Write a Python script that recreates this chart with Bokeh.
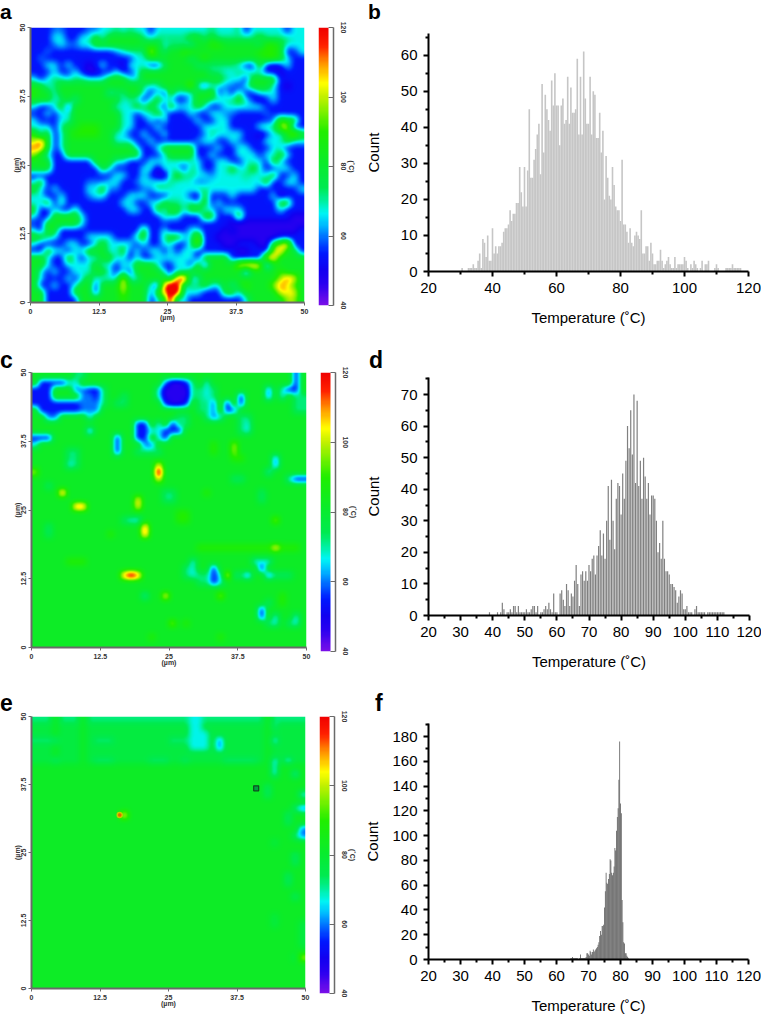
import numpy as np
from bokeh.plotting import figure
from bokeh.models import FixedTicker, LinearColorMapper, Div
from bokeh.embed import file_html
from bokeh.resources import INLINE

# ---- colour scale of the maps (deg C -> colour) ----
CB_VALUES = [40, 46, 50, 55, 60, 63, 66.5, 70, 74, 80, 90, 96, 100, 104, 110, 115, 120]
CB_COLORS = ["#7a10e8", "#2a00f0", "#1200f0", "#0018ff", "#0078ff", "#00b8ff", "#00f5f5", "#00f0a0",
             "#00ea50", "#08ec30", "#20ee00", "#80f000", "#c0f000", "#ffff00", "#ff9000", "#ff2000", "#f00000"]
CB_TICKS = [40, 60, 80, 100, 120]
MAP_TICKS = [0, 12.5, 25, 37.5, 50]

# levels used by the hand-read map grids (deg C)
LEVELS = {"0": 47, "1": 54, "2": 60, "3": 67, "4": 72, "a": 77, "5": 82, "6": 90, "7": 98, "8": 105, "9": 112, "R": 126}

# ---- panel a: temperature map read cell by cell (40 x 40, top row first) ----
MAP_A = [
    "1112211122334343313333333343334133333133",
    "1113311335355555434444455454444445444433",
    "1112322335555555555344435566555554665333",
    "1121111111112344485455665555555556665113",
    "1211111111111113355555545655555555665311",
    "1133131101311033311455554444443115101311",
    "1113113100113113555555555544334433110111",
    "3134434433355533555555555555433155551111",
    "5534555555555555433555573133221355531011",
    "6553555555534455313153335561314113331111",
    "5553453555555343135331135544345310131111",
    "3113515555" "5533354531" "5333531133" "3333111111",
    "1131335555" "5553313353" "1113113322" "1111211111",
    "3111335555" "5553311313" "1111311331" "1111126551",
    "3331455666" "5553311131" "1111133331" "1113447811",
    "6351356666" "5533113113" "1111124333" "3110133585",
    "7951355555" "5533311311" "1111233113" "2111333533",
    "9951355555" "5555531135" "5555111311" "3311133111",
    "7531155555" "5555551113" "5555113111" "3331335311",
    "5551111115" "5533111333" "3333311331" "1333153111",
    "5551111111" "5311113303" "3314311335" "3353113311",
    "1111111111" "1133113100" "3544332333" "3433351131",
    "3511111122" "2331123333" "4333223333" "3333511331",
    "5313111133" "5221112244" "3333443333" "3331111113",
    "3311311123" "3111333111" "3331051113" "1111130111",
    "3351411111" "1113311335" "4434351311" "1111115511",
    "5113114111" "1111331153" "5535533133" "3111113111",
    "3115555311" "1111111114" "3311155111" "5111111100",
    "1155555311" "1111111111" "1111111110" "0000000000",
    "3155111111" "1111115113" "1113311101" "0000000001",
    "5543111133" "3311145114" "5533711000" "0000001111",
    "3111133113" "5333313113" "3114711100" "1110057911",
    "1153313355" "5335131331" "3133111111" "0011179551",
    "5531153133" "5533131133" "3333155551" "1111895555",
    "5531133335" "3313355531" "1331515555" "8998155555",
    "5313113335" "5313155553" "1335555555" "5155556555",
    "5311131353" "3338335555" "49R3355555" "5555557985",
    "5113113551" "5558555319" "RR44453353" "5655579865",
    "5511115551" "5557555259" "RR33311155" "3555558885",
    "5511111555" "5556555135" "R331111111" "1355555775",
]

# ---- panels c, e: uniform field plus patches ----
# (first col, last col, first row, last row, level) on the same 40 x 40 grid
MAP_C_BASE = "5"
MAP_C_PATCHES = [
    (6, 7, 0, 0, "4"), (1, 4, 1, 1, "1"), (0, 2, 2, 4, "1"), (3, 6, 4, 5, "1"), (1, 2, 5, 5, "1"),
    (2, 3, 6, 6, "2"), (5, 6, 1, 1, "3"), (6, 8, 2, 2, "2"), (8, 9, 2, 3, "1"), (7, 8, 3, 5, "2"),
    (9, 9, 4, 5, "2"), (8, 8, 6, 6, "3"), (10, 10, 2, 4, "4"),
    (19, 22, 1, 4, "0"), (19, 19, 1, 1, "2"), (22, 22, 1, 1, "1"), (22, 22, 4, 4, "1"), (19, 19, 4, 4, "1"),
    (18, 18, 2, 3, "3"), (23, 23, 1, 3, "4"), (24, 26, 2, 5, "4"), (25, 25, 1, 3, "3"),
    (13, 13, 3, 4, "4"), (12, 12, 4, 4, "4"),
    (38, 38, 0, 2, "1"), (37, 37, 2, 2, "1"), (36, 36, 2, 3, "3"), (34, 34, 2, 3, "2"),
    (30, 30, 3, 4, "1"), (29, 29, 5, 5, "2"), (28, 28, 4, 5, "1"), (26, 26, 4, 6, "2"), (27, 27, 6, 6, "3"),
    (30, 31, 6, 8, "4"), (31, 31, 7, 8, "3"), (25, 25, 6, 6, "4"), (38, 39, 3, 5, "4"),
    (15, 16, 7, 9, "1"), (20, 21, 7, 8, "1"), (19, 19, 8, 9, "1"), (18, 18, 7, 9, "3"), (17, 17, 8, 8, "3"), (21, 22, 6, 7, "4"),
    (8, 8, 8, 8, "2"), (0, 2, 9, 9, "1"), (0, 0, 10, 10, "3"), (12, 12, 9, 11, "1"), (16, 17, 10, 10, "2"),
    (15, 18, 11, 11, "4"), (5, 6, 11, 13, "4"), (5, 5, 13, 13, "3"),
    (35, 35, 12, 13, "2"), (34, 34, 14, 14, "3"), (38, 39, 15, 15, "1"), (37, 37, 15, 15, "3"),
    (18, 18, 14, 14, "R"), (18, 18, 13, 13, "8"), (18, 18, 15, 15, "8"), (0, 0, 14, 14, "7"),
    (4, 4, 17, 17, "9"), (6, 7, 19, 19, "9"), (15, 15, 18, 19, "8"), (16, 16, 22, 23, "9"),
    (14, 15, 21, 21, "3"), (13, 13, 21, 21, "4"), (2, 2, 22, 23, "4"), (2, 2, 16, 16, "4"),
    (19, 20, 17, 18, "4"), (33, 33, 17, 18, "4"), (29, 30, 15, 15, "4"), (25, 25, 17, 17, "6"),
    (29, 29, 10, 11, "7"), (26, 26, 10, 11, "6"), (29, 30, 12, 12, "6"), (21, 22, 20, 21, "6"),
    (35, 35, 21, 21, "7"), (35, 35, 25, 25, "8"), (36, 38, 25, 25, "6"), (24, 34, 25, 25, "6"),
    (11, 11, 23, 23, "6"), (5, 7, 27, 27, "6"), (23, 23, 27, 29, "3"), (22, 22, 28, 29, "4"),
    (24, 25, 29, 30, "4"), (26, 26, 28, 30, "1"), (27, 27, 29, 30, "3"), (28, 28, 29, 29, "8"),
    (29, 30, 29, 29, "4"), (31, 31, 29, 29, "2"), (33, 33, 28, 28, "1"), (32, 34, 27, 27, "3"),
    (34, 34, 29, 29, "2"), (35, 37, 29, 29, "4"),
    (14, 14, 29, 29, "R"), (13, 13, 29, 29, "9"), (15, 15, 29, 29, "9"),
    (16, 16, 32, 32, "3"), (19, 19, 32, 32, "8"), (27, 27, 32, 32, "7"),
    (36, 36, 32, 33, "6"), (20, 20, 36, 36, "7"), (22, 22, 36, 36, "6"),
    (33, 33, 34, 35, "1"), (34, 34, 33, 33, "4"), (34, 34, 36, 36, "4"), (35, 35, 35, 36, "3"),
    (38, 38, 35, 36, "3"), (37, 37, 36, 36, "4"), (17, 17, 38, 38, "6"), (27, 27, 38, 38, "6"),
]
MAP_E_BASE = "5"
MAP_E_PATCHES = [
    (0, 39, 0, 0, "4"), (0, 39, 1, 6, "a"), (3, 3, 0, 39, "5"), (7, 7, 0, 6, "5"), (34, 34, 0, 39, "5"),
    (23, 24, 0, 1, "3"), (35, 35, 0, 1, "4"),
    (0, 3, 3, 3, "4"), (9, 11, 3, 3, "4"), (20, 22, 3, 3, "4"), (23, 25, 2, 4, "3"), (27, 27, 3, 4, "2"),
    (35, 35, 3, 3, "3"), (3, 3, 6, 6, "4"), (9, 11, 6, 6, "4"), (17, 19, 6, 6, "4"), (22, 22, 6, 6, "4"),
    (28, 32, 6, 6, "4"), (35, 35, 6, 8, "3"), (37, 37, 6, 6, "3"), (38, 38, 8, 8, "3"),
    (34, 34, 10, 11, "4"), (39, 39, 11, 11, "3"), (39, 39, 13, 13, "2"), (38, 38, 13, 13, "4"),
    (37, 37, 14, 15, "4"), (39, 39, 16, 17, "2"), (38, 38, 17, 17, "4"), (35, 35, 18, 18, "a"),
    (38, 38, 20, 21, "4"), (37, 37, 23, 24, "4"), (38, 38, 26, 26, "4"), (35, 35, 29, 30, "a"),
    (39, 39, 30, 33, "a"), (38, 38, 35, 35, "a"), (39, 39, 35, 35, "7"),
    (13, 13, 14, 14, "8"),
]
# spot markers on panel e: hot point and probe square (um)
E_CIRCLE_X, E_CIRCLE_Y = [16.1], [31.9]
E_SQUARE_X, E_SQUARE_Y = [41.0], [36.8]

# ---- histograms, counts per bin ----
HIST_B_START, HIST_B_STEP = 30.0, 0.5
HIST_B = [0,1,0,0,0,1,1,1,2,1, 1,3,5,1,9,8,4,10,3,3, 12,5,7,5,7,7,8,11,12,12, 13,17,14,16,16,19,19,29,22,18,
          29,18,28,45,26,26,31,34,38,41, 27,52,33,49,45,42,39,53,46,55, 46,46,35,46,48,41,42,54,41,51,
          44,44,45,59,38,54,38,61,48,41, 41,54,38,50,49,37,37,44,33,39, 20,32,26,21,20,29,24,18,17,17,
          14,31,13,13,11,8,12,8,7,10, 11,10,9,17,5,5,7,7,3,8, 5,2,2,3,3,6,3,1,2,3,
          4,2,1,1,4,1,2,2,2,2, 4,3,1,0,2,1,3,2,1,0, 1,3,0,2,2,3,0,0,0,1, 2,1,0,0,0,0,1,1,1,1, 2,1,1,1,1,1]
HIST_D_START, HIST_D_STEP = 39.0, 0.5
HIST_D = [1,0,0,0,0,1,0,1, 4,2,0,1,1,2,1,3,3,1, 3,1,1,1,1,2,1,1,2,3, 3,1,3,0,1,1,2,3,2,4, 2,1,7,1,1,0,7,8,5,3,
          10,8,3,7,6,11,16,10,3,13, 14,11,14,11,16,14,18,19,13,19, 22,27,19,26,18,30,41,24,43,30,
          21,37,42,41,32,45,37,49,60,53, 65,51,70,42,68,41,49,37,50,44, 37,42,32,38,38,37,30,20,23,18,
          30,18,14,14,13,10,10,9,8,4, 6,8,7,2,2,3,1,1,1,0, 2,3,1,1,1,1,1,0,1,1, 1,1,1,1,1,1,1,1,1,0]
HIST_F_START, HIST_F_STEP = 64.5, 0.25
HIST_F = [1,1,2,1,1,1,1,1,1,0,0,1,4,1,1,1,1,1,1,2,5,5,4,3,7,6,4,6,8,6,7,8,9,10,12,14,19,23,20,27,27,28,42,55,
          70,62,61,65,69,81,80,70,68,70,75,90,88,104,115,122,145,176,126,118,48,30,14,13,5,5,3,2,1]

X_LABEL = "Temperature (˚C)"
Y_LABEL = "Count"
MU_LABEL = "(µm)"
CB_LABEL = "(˚C)"
FONT = "Liberation Sans"
PALETTE_N = 256


def make_palette():
    vals = np.linspace(CB_VALUES[0], CB_VALUES[-1], PALETTE_N)
    rgb = np.array([[int(c[i:i + 2], 16) for i in (1, 3, 5)] for c in CB_COLORS], float)
    out = []
    for v in vals:
        px = [int(round(np.interp(v, CB_VALUES, rgb[:, k]))) for k in range(3)]
        out.append("#%02x%02x%02x" % tuple(px))
    return out


PALETTE = make_palette()
MAPPER = LinearColorMapper(palette=PALETTE, low=40, high=120)


def rows_to_grid(rows, n=40):
    return np.array([[LEVELS[ch] for ch in (r[:n].ljust(n, r[-1]))] for r in rows], float)


def patches_to_grid(base, patches, n=40):
    g = np.full((n, n), float(LEVELS[base]))
    for c0, c1, r0, r1, lev in patches:
        g[r0:r1 + 1, c0:c1 + 1] = LEVELS[lev]
    return g


def display_image(grid, n=275, k=7):
    """Resample the read grid to screen pixels so that it displays as a smooth map."""
    m = grid.shape[0]
    src = (np.arange(m) + 0.5) / m
    dst = (np.arange(n) + 0.5) / n
    a = np.array([np.interp(dst, src, r) for r in grid])
    a = np.array([np.interp(dst, src, c) for c in a.T]).T
    ker = np.ones(k) / k
    pad = k // 2
    a = np.pad(a, pad, mode="edge")
    a = np.apply_along_axis(lambda s: np.convolve(s, ker, mode="same"), 0, a)
    a = np.apply_along_axis(lambda s: np.convolve(s, ker, mode="same"), 1, a)
    a = a[pad:-pad, pad:-pad]
    return np.flipud(a)


def place(left, top):
    return {"position": "absolute", "left": f"{left}px", "top": f"{top}px"}


def letter(text, x, top, size):
    # x, top: corner of the letter's box in page pixels
    st = place(x, top)
    st.update({"font-family": FONT, "font-weight": "bold", "font-size": f"{size}px", "line-height": "normal", "color": "#000000"})
    return Div(text=text, width=20, height=28, margin=0, styles=st)


def map_fig(grid, fx0, fx1, fy0, fy1, blur):
    # fx0..fy1: the frame's edges in page pixels
    left, top = 0, fy0 - 26
    width, height = fx1 + 8, fy1 + 28 - top
    p = figure(width=width, height=height, x_range=(0, 50), y_range=(0, 50), toolbar_location=None,
               output_backend="svg", min_border_left=fx0, min_border_top=26,
               min_border_right=8, min_border_bottom=28, styles=place(left, top))
    p.image(image=[display_image(grid, k=blur)], x=0, y=0, dw=50, dh=50, color_mapper=MAPPER)
    p.grid.visible = False
    p.outline_line_color = None
    for ax, lab in ((p.xaxis[0], MU_LABEL), (p.yaxis[0], MU_LABEL)):
        ax.ticker = FixedTicker(ticks=MAP_TICKS, minor_ticks=[])
        ax.axis_line_color = "#6a6a6a"
        ax.axis_line_width = 2
        ax.major_tick_line_color = "#6a6a6a"
        ax.major_tick_line_width = 1
        ax.major_tick_out = 3
        ax.major_tick_in = 0
        ax.minor_tick_line_color = None
        ax.major_label_text_font = FONT
        ax.major_label_text_font_style = "bold"
        ax.major_label_text_font_size = "7px"
        ax.major_label_text_color = "#333333"
        ax.major_label_standoff = 3
        ax.axis_label = lab
        ax.axis_label_text_font = FONT
        ax.axis_label_text_font_style = "bold"
        ax.axis_label_text_font_size = "7px"
        ax.axis_label_text_color = "#333333"
        ax.axis_label_standoff = -3
    p.yaxis[0].major_label_orientation = "vertical"
    return p


def bar_fig(fx0, fx1, fy0, fy1):
    left, top = fx0 - 4, fy0 - 10
    width, height = fx1 - fx0 + 4 + 26, fy1 - fy0 + 20
    p = figure(width=width, height=height, x_range=(0, 1.5), y_range=(40, 120), toolbar_location=None,
               output_backend="svg", min_border_left=4, min_border_top=10,
               min_border_right=26, min_border_bottom=10,
               x_axis_location=None, y_axis_location="right", styles=place(left, top))
    p.image(image=[np.linspace(40, 120, PALETTE_N).reshape(-1, 1)], x=0, y=40, dw=1, dh=80, color_mapper=MAPPER)
    p.grid.visible = False
    p.outline_line_color = None
    ax = p.yaxis[0]
    ax.ticker = FixedTicker(ticks=CB_TICKS, minor_ticks=[])
    ax.axis_line_color = "#6a6a6a"
    ax.axis_line_width = 1.5
    ax.major_tick_line_color = "#6a6a6a"
    ax.major_tick_out = 0
    ax.major_tick_in = 5
    ax.minor_tick_line_color = None
    ax.major_label_orientation = "vertical"
    ax.major_label_text_font = FONT
    ax.major_label_text_font_style = "bold"
    ax.major_label_text_font_size = "7px"
    ax.major_label_text_color = "#333333"
    ax.major_label_standoff = 7
    ax.axis_label = CB_LABEL
    ax.axis_label_text_font = FONT
    ax.axis_label_text_font_style = "bold"
    ax.axis_label_text_font_size = "7px"
    ax.axis_label_text_color = "#333333"
    ax.axis_label_standoff = -1
    return p


def hist_fig(values, start, step, ymax, fx1, fy0, fy1, xmaj, xmin, ymaj, ymin, color, wfrac, ylab_off):
    fx0, left = 428, 360
    top = fy0 - 30
    width = 761 - left
    height = fy1 + 62 - top
    p = figure(width=width, height=height, x_range=(20, 120), y_range=(0, ymax), toolbar_location=None,
               output_backend="svg", min_border_left=fx0 - left, min_border_top=30,
               min_border_right=761 - fx1, min_border_bottom=62, styles=place(left, top))
    centres = start + step * np.arange(len(values))
    p.vbar(x=centres, top=values, width=step * wfrac, bottom=0, fill_color=color, line_color=None)
    p.grid.visible = False
    p.outline_line_color = None
    for ax, maj, mnr, lab in ((p.xaxis[0], xmaj, xmin, X_LABEL), (p.yaxis[0], ymaj, ymin, Y_LABEL)):
        ax.ticker = FixedTicker(ticks=maj, minor_ticks=mnr)
        ax.axis_line_color = "#000000"
        ax.axis_line_width = 2
        ax.major_tick_line_color = "#000000"
        ax.major_tick_line_width = 2
        ax.major_tick_out = 5
        ax.major_tick_in = 0
        ax.minor_tick_line_color = "#000000"
        ax.minor_tick_line_width = 2
        ax.minor_tick_out = 3
        ax.minor_tick_in = 0
        ax.major_label_text_font = FONT
        ax.major_label_text_font_size = "15px"
        ax.major_label_text_color = "#000000"
        ax.major_label_standoff = 6
        ax.axis_label = lab
        ax.axis_label_text_font = FONT
        ax.axis_label_text_font_size = "15px"
        ax.axis_label_text_font_style = "normal"
        ax.axis_label_text_color = "#000000"
    p.xaxis[0].axis_label_standoff = 13
    p.yaxis[0].axis_label_standoff = ylab_off
    return p


TICK_20 = list(range(20, 121, 20))
TICK_10 = list(range(20, 121, 10))
MINOR_30 = list(range(30, 120, 20))
MINOR_5 = list(range(25, 120, 10))

grid_a = rows_to_grid(MAP_A)
grid_c = patches_to_grid(MAP_C_BASE, MAP_C_PATCHES)
grid_e = patches_to_grid(MAP_E_BASE, MAP_E_PATCHES)

pa = map_fig(grid_a, 30, 304, 27, 302, 9)
ca = bar_fig(318, 333, 27, 305)
pb = hist_fig(HIST_B, HIST_B_START, HIST_B_STEP, 66, 748, 33, 271, TICK_20, MINOR_30,
              list(range(0, 61, 10)), list(range(5, 66, 10)), "#c6c6c6", 1.0, 16)

pc = map_fig(grid_c, 31, 306, 372, 647, 7)
cc = bar_fig(320, 335, 372, 651)
pd = hist_fig(HIST_D, HIST_D_START, HIST_D_STEP, 75.4, 749, 377, 615, TICK_10, MINOR_5,
              list(range(0, 71, 10)), list(range(5, 76, 10)), "#808080", 0.75, 16)

pe = map_fig(grid_e, 31, 305, 716, 988, 7)
pe.scatter(E_CIRCLE_X, E_CIRCLE_Y, size=5, marker="circle", fill_color="#e06a00", line_color="#c8c800", line_width=1.5)
pe.scatter(E_SQUARE_X, E_SQUARE_Y, size=5, marker="square", fill_color="#00a040", line_color="#104a20", line_width=1.2)
ce = bar_fig(319, 334, 716, 993)
pf = hist_fig(HIST_F, HIST_F_START, HIST_F_STEP, 190.5, 748, 723, 959, TICK_10, MINOR_5,
              list(range(0, 181, 20)), list(range(10, 191, 20)), "#555555", 0.95, 8)

letters = [letter("a", 0, 0, 21), letter("b", 368, 0, 21), letter("c", 0, 347, 23), letter("d", 369, 347, 23),
           letter("e", 0, 690, 23), letter("f", 375, 690, 23)]

roots = [pa, ca, pb, pc, cc, pd, pe, ce, pf] + letters
open("out.html", "w").write(file_html(roots, INLINE))
